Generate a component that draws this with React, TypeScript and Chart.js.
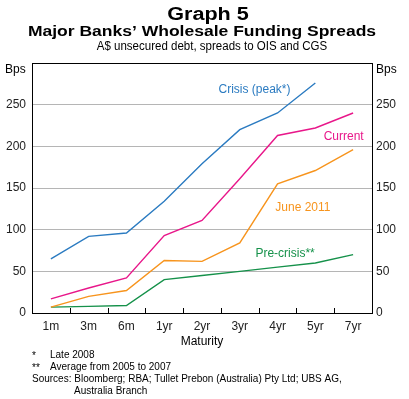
import React, { useEffect, useRef } from "react";
import { Chart, registerables } from "chart.js";

Chart.register(...registerables);

const categories = ["1m", "3m", "6m", "1yr", "2yr", "3yr", "4yr", "5yr", "7yr"];
const crisis = [65, 92, 96, 134, 179, 220, 240, 276, null];
const current = [17, 30, 42, 93, 111, 161, 213, 222, 240];
const june2011 = [7, 20, 27, 63, 62, 84, 155, 171, 196];
const preCrisis = [7, 8, 9, 40, 45, 50, 55, 60, 70];
const yTicks = [0, 50, 100, 150, 200, 250, 300];

const BLUE = "#2b7bc1";
const MAGENTA = "#e8178a";
const ORANGE = "#f7941d";
const GREEN = "#15914a";

// series label annotations: [text, category index (fractional), value, colour]
const seriesLabels: [string, number, number, string][] = [
  ["Crisis (peak*)", 5.39, 268, BLUE],
  ["Current", 7.75, 211, MAGENTA],
  ["June 2011", 6.67, 126, ORANGE],
  ["Pre-crisis**", 6.2, 71, GREEN],
];

const FONT = "'Liberation Sans', Arial, sans-serif";

const overlay = {
  id: "overlay",
  afterDraw(chart: any) {
    const ctx = chart.ctx as CanvasRenderingContext2D;
    const { left, right, top, bottom } = chart.chartArea;
    const xs = chart.scales.x;
    const ys = chart.scales.y;
    ctx.save();
    // frame
    ctx.strokeStyle = "#000";
    ctx.lineWidth = 1;
    ctx.strokeRect(Math.round(left) + 0.5, Math.round(top) + 0.5, Math.round(right - left), Math.round(bottom - top));
    // x tick marks between categories, pointing inward
    for (let i = 1; i < categories.length; i++) {
      const x = Math.round((xs.getPixelForValue(i - 1) + xs.getPixelForValue(i)) / 2) + 0.5;
      ctx.beginPath();
      ctx.moveTo(x, bottom);
      ctx.lineTo(x, bottom - 5);
      ctx.stroke();
    }
    // series labels
    ctx.font = `12px ${FONT}`;
    ctx.textAlign = "center";
    ctx.textBaseline = "middle";
    for (const [t, idx, v, c] of seriesLabels) {
      ctx.fillStyle = c;
      ctx.fillText(t, xs.getPixelForValue(idx), ys.getPixelForValue(v));
    }
    // header
    ctx.fillStyle = "#000";
    const drawStretched = (t: string, font: string, cx: number, cy: number, sx: number) => {
      ctx.save();
      ctx.font = font;
      ctx.translate(cx, cy);
      ctx.scale(sx, 1);
      ctx.fillText(t, 0, 0);
      ctx.restore();
    };
    drawStretched("Graph 5", `bold 18px ${FONT}`, 208, 15, 1.2);
    drawStretched("Major Banks\u2019 Wholesale Funding Spreads", `bold 14px ${FONT}`, 202, 32, 1.25);
    drawStretched("A$ unsecured debt, spreads to OIS and CGS", `12px ${FONT}`, 212, 47, 0.96);
    // Bps labels
    ctx.font = `12px ${FONT}`;
    ctx.textAlign = "left";
    ctx.fillText("Bps", 5, 70);
    ctx.fillText("Bps", 376, 70);
    // axis title
    ctx.textAlign = "center";
    ctx.fillText("Maturity", 202, 342);
    // footnotes
    ctx.font = `10px ${FONT}`;
    ctx.textAlign = "left";
    ctx.fillText("*", 32, 356);
    ctx.fillText("Late 2008", 50, 355);
    ctx.fillText("**", 32, 368);
    ctx.fillText("Average from 2005 to 2007", 50, 367);
    ctx.fillText("Sources: Bloomberg; RBA; Tullet Prebon (Australia) Pty Ltd; UBS AG,", 32, 379);
    ctx.fillText("Australia Branch", 74, 391);
    ctx.restore();
  },
};

export default function App() {
  const ref = useRef<HTMLCanvasElement>(null);
  useEffect(() => {
    document.body.style.margin = "0";
    if (!ref.current) return;
    Chart.defaults.font.family = FONT;
    const mk = (label: string, data: (number | null)[], color: string) => ({
      label,
      data,
      borderColor: color,
      backgroundColor: color,
      borderWidth: 1.4,
      pointRadius: 0,
      tension: 0,
      spanGaps: false,
    });
    const chart = new Chart(ref.current, {
      type: "line",
      data: {
        labels: categories,
        datasets: [
          mk("Crisis (peak*)", crisis, BLUE),
          mk("Current", current, MAGENTA),
          mk("June 2011", june2011, ORANGE),
          mk("Pre-crisis**", preCrisis, GREEN),
        ],
      },
      options: {
        responsive: false,
        animation: false,
        layout: { padding: { top: 63, left: 0, right: 0, bottom: 0 } },
        plugins: { legend: { display: false }, tooltip: { enabled: false }, title: { display: false } },
        scales: {
          x: {
            type: "category",
            offset: true,
            grid: { display: false, drawTicks: false },
            border: { display: false },
            ticks: { color: "#222", font: { size: 12, family: FONT }, padding: 6, maxRotation: 0, autoSkip: false },
            afterFit: (s: any) => { s.height = 86; },
          },
          y: {
            position: "left",
            min: yTicks[0],
            max: yTicks[yTicks.length - 1],
            afterBuildTicks: (s: any) => { s.ticks = yTicks.map((v) => ({ value: v })); },
            grid: { color: "#b5b5b5", lineWidth: 1, drawTicks: false },
            border: { display: false },
            ticks: {
              color: "#222",
              font: { size: 12, family: FONT },
              padding: 6,
              callback: (v: any) => (v === 300 ? "" : String(v)),
            },
            afterFit: (s: any) => { s.width = 32; },
          },
          y2: {
            position: "right",
            min: yTicks[0],
            max: yTicks[yTicks.length - 1],
            afterBuildTicks: (s: any) => { s.ticks = yTicks.map((v) => ({ value: v })); },
            grid: { display: false, drawTicks: false },
            border: { display: false },
            ticks: {
              color: "#222",
              font: { size: 12, family: FONT },
              padding: 4,
              callback: (v: any) => (v === 300 ? "" : String(v)),
            },
            afterFit: (s: any) => { s.width = 37; },
          },
        },
      },
      plugins: [overlay],
    });
    return () => chart.destroy();
  }, []);
  return (
    <div style={{ width: 409, height: 399 }}>
      <canvas ref={ref} width={409} height={399} />
    </div>
  );
}
